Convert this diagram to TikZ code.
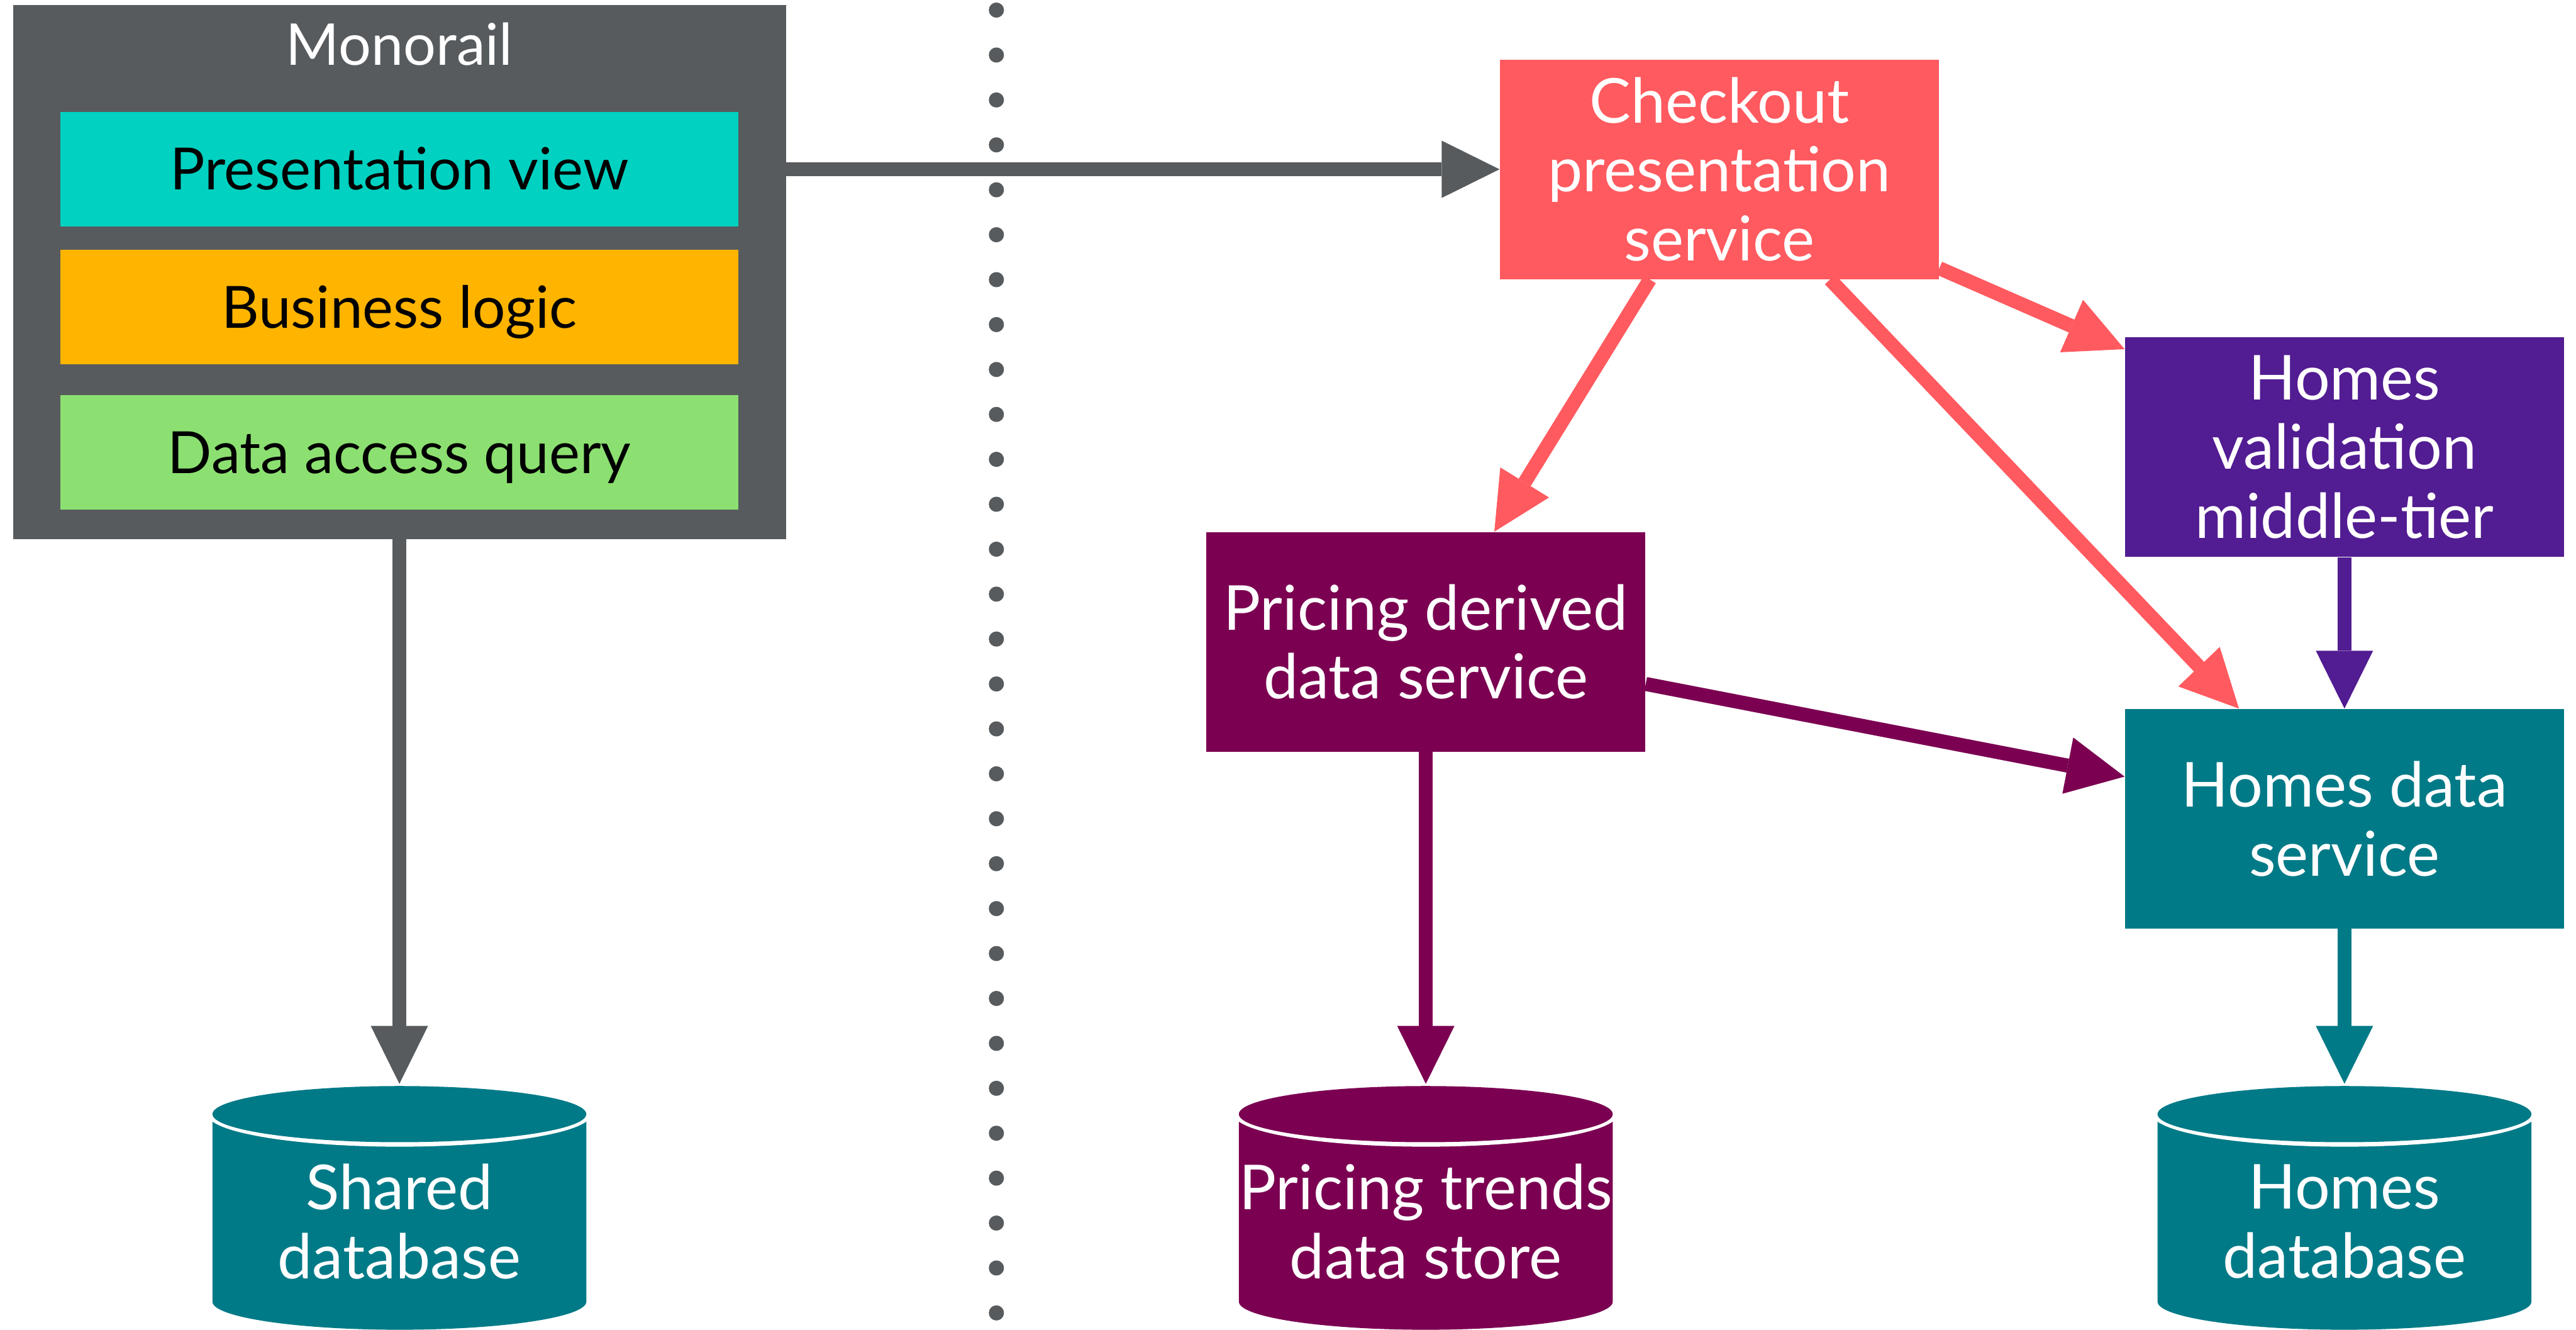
\documentclass[tikz,border=0pt]{standalone}
\usepackage{fontspec}
\setmainfont{Lato}
\usetikzlibrary{arrows.meta}
\definecolor{mrGrey}{HTML}{575B5E}
\definecolor{pvTeal}{HTML}{00D1C1}
\definecolor{blAmber}{HTML}{FFB400}
\definecolor{daGreen}{HTML}{8CE071}
\definecolor{coRed}{HTML}{FF5A5F}
\definecolor{hvPurple}{HTML}{521C92}
\definecolor{pdPlum}{HTML}{7B0051}
\definecolor{hdTeal}{HTML}{007A87}
\begin{document}
\begin{tikzpicture}[
  layer/.style={minimum width=12.07cm, minimum height=2.04cm, inner sep=0pt,
    text height=0.745cm, text depth=0pt, font=\fontsize{29.5}{35}\selectfont},
  svc/.style={minimum width=7.82cm, minimum height=3.91cm, inner sep=0pt,
    text=white, align=center, font=\fontsize{31.4}{35}\selectfont},
  dbtext/.style={text=white, align=center, font=\fontsize{31.4}{35}\selectfont},
  flow/.style={line width=0.25cm, -{Triangle[length=1.03cm, width=1.02cm, line width=0pt]}}
]
\useasboundingbox (0,0) rectangle (45.89,-23.68);

% monolith on the left
\node[fill=mrGrey, minimum width=13.77cm, minimum height=9.51cm, inner sep=0pt] (monorail) at (7.115,-4.845) {};
\node[text=white, anchor=base, font=\fontsize{29.2}{35}\selectfont] (monotitle) at (7.115,-1.16) {Monorail};
\node[layer, fill=pvTeal] (pview) at (7.115,-3.01) {Presentation view};
\node[layer, fill=blAmber] (blogic) at (7.115,-5.465) {Business logic};
\node[layer, fill=daGreen] (dquery) at (7.115,-8.055) {Data access query};

% divider
\foreach \i in {0,...,29}
  \fill[mrGrey] (17.75,{-0.18-0.8*\i}) circle (0.135);

% services
\node[svc, fill=coRed] (checkout) at (30.63,-3.015) {Checkout\\presentation\\service};
\node[svc, fill=hvPurple] (validation) at (41.765,-7.96) {Homes\\validation\\middle-tier};
\node[svc, fill=pdPlum] (pricing) at (25.40,-11.43) {Pricing derived\\data service};
\node[svc, fill=hdTeal] (homesdata) at (41.765,-14.58) {Homes data\\service};

% data stores
\foreach \cx/\tint/\nm/\txt in {7.115/hdTeal/shareddb/{Shared\\database},
    25.40/pdPlum/trendsdb/{Pricing trends\\data store},
    41.765/hdTeal/homesdb/{Homes\\database}} {
  \fill[\tint] (\cx-3.33,-19.84) -- (\cx-3.33,-23.18)
    arc[start angle=180, end angle=360, x radius=3.33, y radius=0.5] -- (\cx+3.33,-19.84) -- cycle;
  \fill[white] (\cx,-19.84) ellipse[x radius=3.42, y radius=0.58];
  \fill[\tint] (\cx,-19.84) ellipse[x radius=3.33, y radius=0.5];
  \coordinate (\nm-top) at (\cx,-19.3);
  \node[dbtext] (\nm) at (\cx,-21.75) {\txt};
}

% connectors
\draw[flow, mrGrey] (monorail.east |- checkout.west) -- (checkout.west);
\draw[flow, mrGrey] (monorail.south) -- (shareddb-top);
\draw[flow, coRed] ([xshift=-1.24cm]checkout.south) -- ([xshift=1.22cm]pricing.north);
\draw[flow, coRed] ([xshift=1.97cm]checkout.south) -- ([xshift=-1.88cm]homesdata.north);
\draw[flow, coRed] ([yshift=0.2cm]checkout.south east) -- ([yshift=-0.22cm]validation.north west);
\draw[flow, hvPurple] (validation.south) -- (homesdata.north);
\draw[flow, pdPlum] ([yshift=-0.75cm]pricing.east) -- ([yshift=0.75cm]homesdata.west);
\draw[flow, pdPlum] (pricing.south) -- (trendsdb-top);
\draw[flow, hdTeal] (homesdata.south) -- (homesdb-top);
\end{tikzpicture}
\end{document}
